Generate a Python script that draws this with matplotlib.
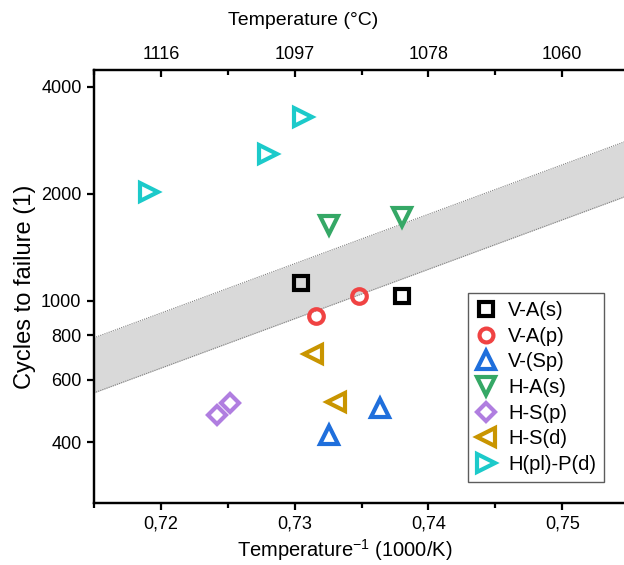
import matplotlib.pyplot as plt
from matplotlib.ticker import FixedLocator, NullLocator

plt.rcParams['font.family'] = ['Liberation Sans', 'DejaVu Sans']
plt.rcParams['mathtext.fontset'] = 'custom'
plt.rcParams['mathtext.rm'] = 'Liberation Sans'

# --- data (x: 1000/T in 1/K, y: cycles to failure) ---
labels = ['V-A(s)', 'V-A(p)', 'V-(Sp)', 'H-A(s)', 'H-S(p)', 'H-S(d)', 'H(pl)-P(d)']
markers = ['s', 'o', '^', 'v', 'D', '<', '>']
colors = ['#000000', '#f04343', '#1f6fdc', '#35a866', '#b07ee0', '#c99500', '#1ccaca']

x_vals = [
    [0.7305, 0.7380],
    [0.7316, 0.7348],
    [0.7364, 0.7326],
    [0.7326, 0.7380],
    [0.7242, 0.7252],
    [0.7314, 0.7331],
    [0.7191, 0.7280, 0.7306],
]
y_vals = [
    [1126, 1033],
    [909, 1035],
    [499, 420],
    [1636, 1726],
    [478, 516],
    [708, 519],
    [2030, 2592, 3287],
]

# scatter band (upper / lower edge)
band_x = [0.715, 0.760]
band_upper = [787, 3324]
band_lower = [551, 2327]

x_ticks = [0.72, 0.73, 0.74, 0.75]
x_ticklabels = ['0,72', '0,73', '0,74', '0,75']
x_minor = [0.715, 0.725, 0.735, 0.745, 0.755]
top_ticklabels = ['1116', '1097', '1078', '1060']
y_ticks = [400, 600, 800, 1000, 2000, 4000]
y_ticklabels = ['400', '600', '800', '1000', '2000', '4000']

fig = plt.figure(figsize=(6.24, 5.65), dpi=100)
# axes runs past the right edge of the figure, like the cropped original
ax = fig.add_axes([94 / 624, 62 / 565, 602 / 624, 433 / 565])

ax.fill_between(band_x, band_lower, band_upper, color='#d9d9d9', lw=0, zorder=1)
ax.plot(band_x, band_upper, color='#808080', lw=0.8, ls=(0, (1, 1)), zorder=2)
ax.plot(band_x, band_lower, color='#808080', lw=0.8, ls=(0, (1, 1)), zorder=2)

for lab, mk, col, xs, ys in zip(labels, markers, colors, x_vals, y_vals):
    size = 10.5 if mk in ('s', 'o') else (9.5 if mk == 'D' else 13)
    ax.plot(xs, ys, ls='none', marker=mk, ms=size, mfc='none', mec=col,
            mew=3.0, label=lab, zorder=3)

ax.set_yscale('log')
ax.set_xlim(0.715, 0.760)
ax.set_ylim(270, 4460)

ax.yaxis.set_major_locator(FixedLocator(y_ticks))
ax.yaxis.set_minor_locator(NullLocator())
ax.set_yticklabels(y_ticklabels)
ax.set_xticks(x_ticks)
ax.set_xticklabels(x_ticklabels)
ax.set_xticks(x_minor, minor=True)

ax.tick_params(axis='both', which='major', direction='out', length=5, width=1.6,
               labelsize=13, pad=4)
ax.tick_params(axis='x', which='minor', direction='out', length=3.5, width=1.6)
for s in ax.spines.values():
    s.set_linewidth(1.6)

ax.set_xlabel('Temperature$^{\\mathregular{-1}}$ (1000/K)', fontsize=14.5)
ax.xaxis.label.set_va('center')
ax.xaxis.set_label_coords(0.417, -0.108)
ax.set_ylabel('Cycles to failure (1)', fontsize=17)
ax.yaxis.label.set_va('center')
ax.yaxis.set_label_coords(-0.115, 0.5)

# top axis in degrees Celsius
top = ax.twiny()
top.set_xlim(ax.get_xlim())
top.set_xticks(x_ticks)
top.set_xticklabels(top_ticklabels)
top.set_xticks(x_minor, minor=True)
top.tick_params(axis='x', which='major', direction='in', length=5, width=1.6,
                labelsize=13, pad=5)
top.tick_params(axis='x', which='minor', direction='in', length=3.5, width=1.6)
top.set_xlabel('Temperature (°C)', fontsize=14)
top.xaxis.label.set_va('center')
top.xaxis.set_label_coords(0.347, 1.115)
for s in top.spines.values():
    s.set_linewidth(1.6)

leg = ax.legend(loc='upper left', bbox_to_anchor=(468 / 624, 1 - 293 / 565),
                bbox_transform=fig.transFigure, borderaxespad=0, fontsize=14.5,
                frameon=True, fancybox=False, handlelength=1.0, handletextpad=0.6,
                labelspacing=0.33, borderpad=0.4, markerscale=0.95)
leg.get_frame().set_edgecolor('#333333')
leg.get_frame().set_linewidth(1.0)

fig.savefig('out.png', dpi=100)
